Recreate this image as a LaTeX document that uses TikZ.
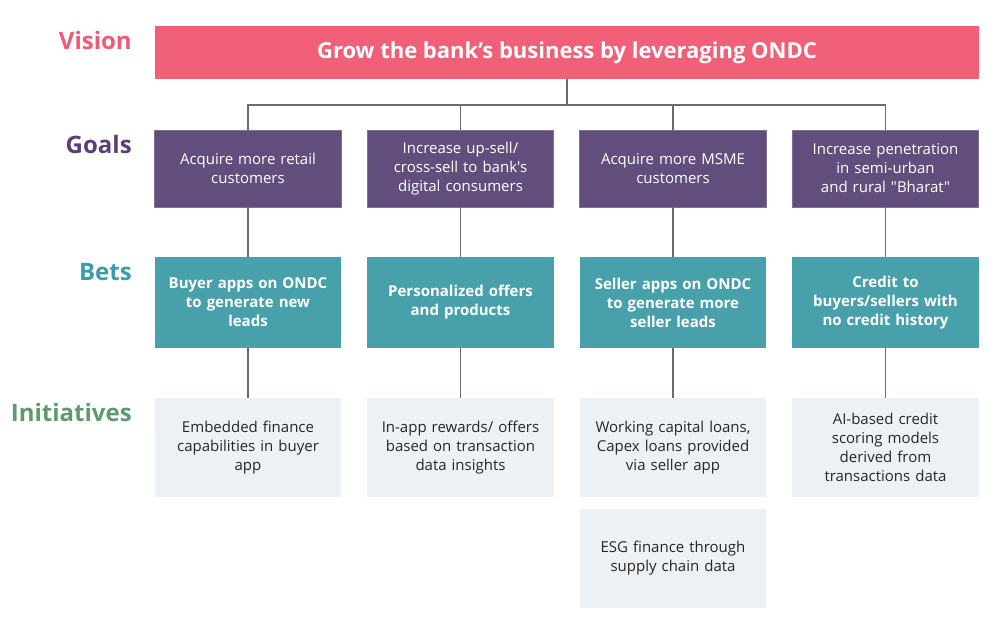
\documentclass[tikz,border=0pt]{standalone}
\usepackage{fontspec}
\setmainfont{Open Sans}[Ligatures=TeXOff]
\usetikzlibrary{positioning}
\definecolor{visionpink}{HTML}{F06078}
\definecolor{goalpurple}{HTML}{624E7C}
\definecolor{betteal}{HTML}{48A0AA}
\definecolor{initgray}{HTML}{EEF1F4}
\definecolor{lblpink}{HTML}{F05A78}
\definecolor{lblpurple}{HTML}{5B3F78}
\definecolor{lblteal}{HTML}{3A9DA8}
\definecolor{lblgreen}{HTML}{5E9A6E}
\definecolor{connline}{HTML}{6B6B6B}

\tikzset{
  level/.style={anchor=east, inner sep=0pt, font=\fontsize{18}{20}\selectfont\bfseries},
  box/.style={minimum width=139.9pt, inner sep=0pt, text width=124pt, align=center,
    font=\fontsize{11.25}{14.25}\selectfont},
  goalbox/.style={box, fill=goalpurple, draw=goalpurple!80!white, line width=0.5pt, text=white, minimum height=57.75pt},
  betbox/.style={box, fill=betteal, text=white, minimum height=68.25pt,
    font=\fontsize{11.25}{14.25}\selectfont\bfseries},
  initbox/.style={box, fill=initgray, text=black!85, minimum height=74.25pt},
  conn/.style={draw=connline, line width=0.9pt},
}

\begin{document}
\begin{tikzpicture}[x=0.75pt,y=-0.75pt]
  \useasboundingbox (0,0) rectangle (1000,633);

  % Row labels
  \node[level, text=lblpink]   (lvision) at (132,40)  {Vision};
  \node[level, text=lblpurple] (lgoals)  at (132,144) {Goals};
  \node[level, text=lblteal]   (lbets)   at (132,272) {Bets};
  \node[level, text=lblgreen]  (linit)   at (132,412) {Initiatives};

  % Vision
  \node[fill=visionpink, minimum width=618pt, minimum height=39.75pt, inner sep=0pt,
    text=white, font=\fontsize{16.5}{18}\selectfont\bfseries] (vision) at (567,52.5)
    {Grow the bank’s business by leveraging ONDC};

  % Goals
  \node[goalbox] (g1) at (248,168.5)   {Acquire more retail\\customers};
  \node[goalbox] (g2) at (460.5,168.5) {Increase up-sell/\\cross-sell to bank's\\digital consumers};
  \node[goalbox] (g3) at (673,168.5)   {Acquire more MSME\\customers};
  \node[goalbox] (g4) at (885.5,168.5) {Increase penetration\\in semi-urban\\and rural "Bharat"};

  % Bets
  \node[betbox] (b1) at (248,302.5)   {Buyer apps on ONDC\\to generate new\\leads};
  \node[betbox] (b2) at (460.5,302.5) {Personalized offers\\and products};
  \node[betbox] (b3) at (673,302.5)   {Seller apps on ONDC\\to generate more\\seller leads};
  \node[betbox] (b4) at (885.5,302.5) {Credit to\\buyers/sellers with\\no credit history};

  % Initiatives
  \node[initbox] (i1) at (248,447.5)   {Embedded finance\\capabilities in buyer\\app};
  \node[initbox] (i2) at (460.5,447.5) {In-app rewards/ offers\\based on transaction\\data insights};
  \node[initbox] (i3) at (673,447.5)   {Working capital loans,\\Capex loans provided\\via seller app};
  \node[initbox] (i4) at (885.5,447.5) {AI-based credit\\scoring models\\derived from\\transactions data};
  \node[initbox, below=8.25pt of i3] (i5) {ESG finance through\\supply chain data};

  % Connectors
  \coordinate (hub) at (567,105);
  \draw[conn] (vision.south) -- (hub);
  \draw[conn] (g1.north) |- (hub) -| (g4.north);
  \foreach \g in {g2,g3}
    \draw[conn] (\g.north) -- (\g.north |- hub);
  \foreach \n in {1,2,3,4} {
    \draw[conn] (g\n.south) -- (b\n.north);
    \draw[conn] (b\n.south) -- (i\n.north);
  }
\end{tikzpicture}
\end{document}
